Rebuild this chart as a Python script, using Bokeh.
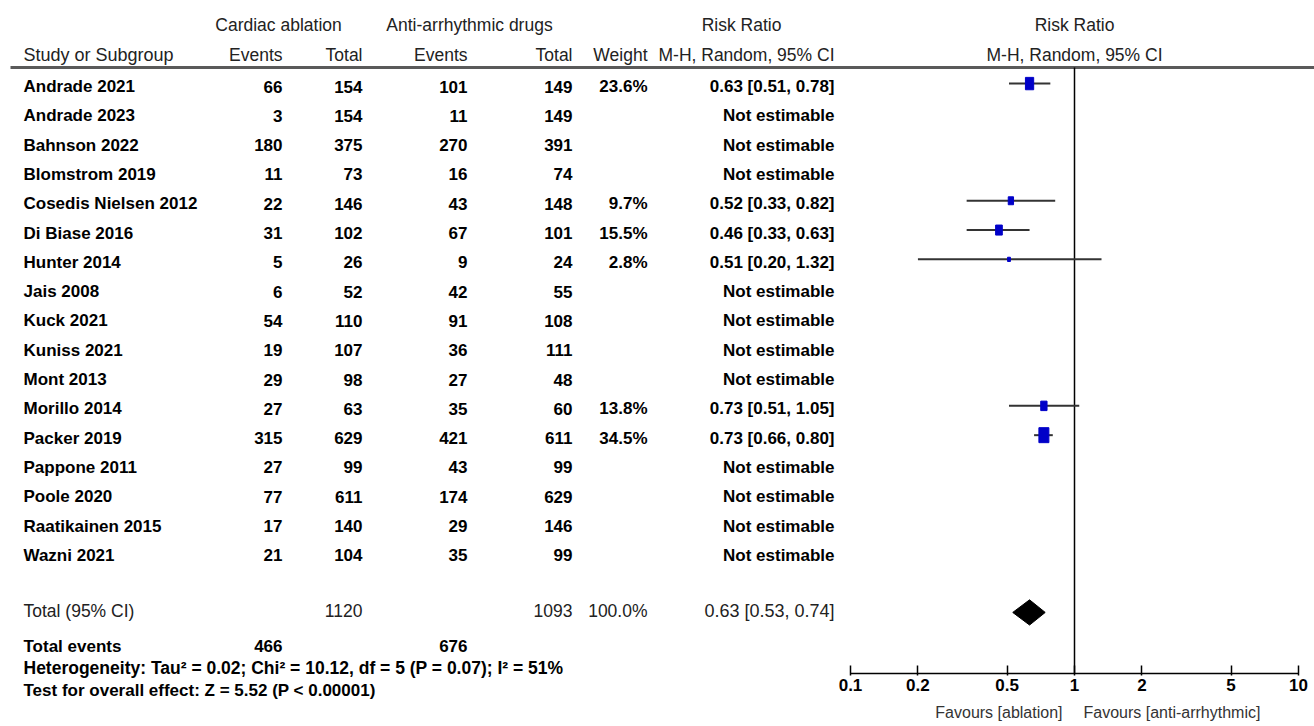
import math
from bokeh.plotting import figure
from bokeh.models import Range1d, ColumnDataSource, FixedTicker, CustomJSTickFormatter, LogAxis, LogScale
from bokeh.core.properties import value
from bokeh.embed import file_html
from bokeh.resources import INLINE

# ---------------- data ----------------
studies = ["Andrade 2021", "Andrade 2023", "Bahnson 2022", "Blomstrom 2019", "Cosedis Nielsen 2012",
           "Di Biase 2016", "Hunter 2014", "Jais 2008", "Kuck 2021", "Kuniss 2021", "Mont 2013",
           "Morillo 2014", "Packer 2019", "Pappone 2011", "Poole 2020", "Raatikainen 2015", "Wazni 2021"]
ca_events = [66, 3, 180, 11, 22, 31, 5, 6, 54, 19, 29, 27, 315, 27, 77, 17, 21]
ca_total = [154, 154, 375, 73, 146, 102, 26, 52, 110, 107, 98, 63, 629, 99, 611, 140, 104]
aad_events = [101, 11, 270, 16, 43, 67, 9, 42, 91, 36, 27, 35, 421, 43, 174, 29, 35]
aad_total = [149, 149, 391, 74, 148, 101, 24, 55, 108, 111, 48, 60, 611, 99, 629, 146, 99]
weights = [23.6, None, None, None, 9.7, 15.5, 2.8, None, None, None, None, 13.8, 34.5, None, None, None, None]
rr = [0.63, None, None, None, 0.52, 0.46, 0.51, None, None, None, None, 0.73, 0.73, None, None, None, None]
rr_lo = [0.51, None, None, None, 0.33, 0.33, 0.20, None, None, None, None, 0.51, 0.66, None, None, None, None]
rr_hi = [0.78, None, None, None, 0.82, 0.63, 1.32, None, None, None, None, 1.05, 0.80, None, None, None, None]

total_ca_events = 466
total_aad_events = 676
total_ca = 1120
total_aad = 1093
total_weight = "100.0%"
total_rr, total_lo, total_hi = 0.63, 0.53, 0.74
heterogeneity = "Heterogeneity: Tau\u00b2 = 0.02; Chi\u00b2 = 10.12, df = 5 (P = 0.07); I\u00b2 = 51%"
overall = "Test for overall effect: Z = 5.52 (P < 0.00001)"

tick_values = [0.1, 0.2, 0.5, 1, 2, 5, 10]
tick_labels = ["0.1", "0.2", "0.5", "1", "2", "5", "10"]

# ---------------- layout ----------------
W, H = 1314, 726
FONT = value("Liberation Sans")
ROW_PX = 29.3
ROW0_PX = 86.0
Y_TOP = -ROW0_PX / ROW_PX
Y_BOT = (H - ROW0_PX) / ROW_PX
HDR1 = (24 - ROW0_PX) / ROW_PX
HDR2 = (54 - ROW0_PX) / ROW_PX
HLINE = (67 - ROW0_PX) / ROW_PX
TOT_ROW = 17.9
EV_ROW = 19.1
HET_ROW = 19.85
OVR_ROW = 20.6
AXIS_ROW = (673 - ROW0_PX) / ROW_PX
FAV_ROW = (712 - ROW0_PX) / ROW_PX
PX_PER_DECADE = 224.0
X_ONE_PX = 1074.0

n = len(studies)
ys = list(range(n))

p = figure(width=W, height=H, x_range=Range1d(0, W), y_range=Range1d(Y_BOT, Y_TOP),
           output_backend="svg", toolbar_location=None, min_border=0,
           outline_line_color=None, x_axis_location=None, y_axis_location=None)
p.grid.visible = False
p.extra_x_ranges = {"rr": Range1d(10 ** (-X_ONE_PX / PX_PER_DECADE), 10 ** ((W - X_ONE_PX) / PX_PER_DECADE))}
p.extra_x_scales = {"rr": LogScale()}

COL_NAME, COL_CAE, COL_CAT, COL_AAE, COL_AAT, COL_W, COL_CI = 23, 282, 362, 467, 572, 647, 834


def txt(x, y, t, align="left", bold=False, size="17px", color="black", rname="default", xoff=0):
    p.text(x=x, y=y, text=t, text_align=align, text_baseline="middle",
           text_font=FONT, text_font_size=value(size), x_offset=xoff,
           text_font_style="bold" if bold else "normal", text_color=color, x_range_name=rname)

HC = "#222222"
HS = "17.5px"
# header
txt([278], [HDR1], ["Cardiac ablation"], "center", size=HS, color=HC)
txt([469], [HDR1], ["Anti-arrhythmic drugs"], "center", size=HS, color=HC)
txt([741], [HDR1], ["Risk Ratio"], "center", size=HS, color=HC)
txt([COL_NAME], [HDR2], ["Study or Subgroup"], "left", size="18px", color=HC)
txt([COL_CAE, COL_AAE], [HDR2, HDR2], ["Events", "Events"], "right", size=HS, color=HC)
txt([COL_CAT, COL_AAT], [HDR2, HDR2], ["Total", "Total"], "right", size=HS, color=HC)
txt([COL_W], [HDR2], ["Weight"], "right", size=HS, color=HC)
txt([COL_CI], [HDR2], ["M-H, Random, 95% CI"], "right", size=HS, color=HC)
txt([1], [HDR1], ["Risk Ratio"], "center", size=HS, color=HC, rname="rr")
txt([1], [HDR2], ["M-H, Random, 95% CI"], "center", size=HS, color=HC, rname="rr")
p.line(x=[10, W], y=[HLINE, HLINE], line_color="#5a5a5a", line_width=3)

# rows
ci_text = [("%.2f [%.2f, %.2f]" % (r, l, h)) if r is not None else "Not estimable"
           for r, l, h in zip(rr, rr_lo, rr_hi)]
w_text = [("%.1f%%" % w) if w is not None else "" for w in weights]
txt([COL_NAME] * n, ys, studies, "left", bold=True)
txt([COL_CAE] * n, ys, [str(v) for v in ca_events], "right", bold=True)
txt([COL_CAT] * n, ys, [str(v) for v in ca_total], "right", bold=True)
txt([COL_AAE] * n, ys, [str(v) for v in aad_events], "right", bold=True)
txt([COL_AAT] * n, ys, [str(v) for v in aad_total], "right", bold=True)
txt([COL_W] * n, ys, w_text, "right", bold=True)
txt([COL_CI] * n, ys, ci_text, "right", bold=True)

# totals
TC = "#222222"
txt([COL_NAME], [TOT_ROW], ["Total (95% CI)"], "left", size=HS, color=TC)
txt([COL_CAT], [TOT_ROW], [str(total_ca)], "right", size=HS, color=TC)
txt([COL_AAT], [TOT_ROW], [str(total_aad)], "right", size=HS, color=TC)
txt([COL_W], [TOT_ROW], [total_weight], "right", size=HS, color=TC)
txt([COL_CI], [TOT_ROW], ["%.2f [%.2f, %.2f]" % (total_rr, total_lo, total_hi)], "right", size="18px", color=TC)
txt([COL_NAME], [EV_ROW], ["Total events"], "left", bold=True)
txt([COL_CAE], [EV_ROW], [str(total_ca_events)], "right", bold=True)
txt([COL_AAE], [EV_ROW], [str(total_aad_events)], "right", bold=True)
txt([COL_NAME], [HET_ROW], [heterogeneity], "left", bold=True, size="17.5px")
txt([COL_NAME], [OVR_ROW], [overall], "left", bold=True)

# ---------------- forest plot ----------------
ax = LogAxis(x_range_name="rr", fixed_location=AXIS_ROW)
ax.ticker = FixedTicker(ticks=tick_values)
ax.formatter = CustomJSTickFormatter(args=dict(tvals=tick_values, tlabs=tick_labels),
                                     code="const k = tvals.findIndex(t => Math.abs(t - tick) < 1e-6*t); return k >= 0 ? tlabs[k] : '';")
ax.bounds = (tick_values[0], tick_values[-1])
ax.axis_line_color = "black"
ax.axis_line_width = 1.5
ax.major_tick_line_color = "black"
ax.major_tick_line_width = 1.5
ax.major_tick_in = 8
ax.major_tick_out = 2
ax.minor_tick_line_color = None
ax.major_label_standoff = 3
ax.major_label_text_font = "Liberation Sans"
ax.major_label_text_font_size = "17px"
ax.major_label_text_font_style = "bold"
ax.major_label_text_color = "black"
p.add_layout(ax, "below")

# line of no effect
p.segment(x0=[1], y0=[HLINE], x1=[1], y1=[AXIS_ROW], line_color="black", line_width=1.5, x_range_name="rr")

# CIs and boxes
est_idx = [i for i in range(n) if rr[i] is not None]
src = ColumnDataSource(dict(
    y=[ys[i] - 0.1 for i in est_idx],
    rr=[rr[i] for i in est_idx],
    lo=[rr_lo[i] for i in est_idx],
    hi=[rr_hi[i] for i in est_idx],
    bw=[1.7 * math.sqrt(weights[i]) for i in est_idx],
    bh=[2.55 * math.sqrt(weights[i]) for i in est_idx],
))
p.segment(x0="lo", y0="y", x1="hi", y1="y", source=src, line_color="#333333", line_width=2, x_range_name="rr")
p.rect(x="rr", y="y", width="bw", height="bh", width_units="screen", height_units="screen",
       source=src, fill_color="#0000C8", line_color="#0000C8", line_width=1, x_range_name="rr")

# total diamond
half = 0.43
dy = TOT_ROW + 0.05
p.patch(x=[total_lo, total_rr, total_hi, total_rr],
        y=[dy, dy - half, dy, dy + half],
        fill_color="black", line_color="black", x_range_name="rr")

# favours labels
txt([1], [FAV_ROW], ["Favours [ablation]"], "right", size="16px", color="#333333", rname="rr", xoff=-12)
txt([1], [FAV_ROW], ["Favours [anti-arrhythmic]"], "left", size="16px", color="#333333", rname="rr", xoff=9)

open("out.html", "w").write(file_html(p, INLINE))
